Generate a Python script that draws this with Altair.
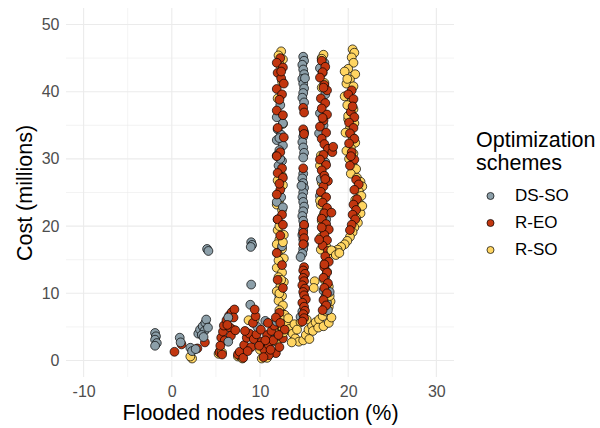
import altair as alt
import pandas as pd

schemes = ["DS-SO", "R-EO", "R-SO"]
scheme_colors = ["#8C9FA9", "#C2360F", "#FFD562"]

x_ticks = [-10, 0, 10, 20, 30]
x_minor = [-5, 5, 15, 25]
y_ticks = [0, 10, 20, 30, 40, 50]
y_minor = [5, 15, 25, 35, 45]

ds_so = [
    (-1.9, 4.1), (-1.8, 3.6), (-1.9, 3.1), (-1.7, 2.6), (-1.9, 2.2),
    (0.9, 3.4), (1.0, 2.7), (2.1, 1.9), (2.3, 1.4), (2.7, 1.7),
    (3.0, 4.0), (3.2, 4.6), (3.5, 5.1), (3.8, 5.6), (3.9, 6.1), (3.7, 4.4),
    (3.4, 3.8), (4.1, 4.9), (3.6, 3.5), (4.0, 16.6), (4.15, 16.3),
    (9.0, 17.6), (9.1, 17.2), (8.95, 16.9), (9.0, 11.3), (8.9, 8.3),
    (6.4, 6.4), (6.4, 2.8), (9.7, 5.0), (10.6, 5.9), (11.3, 3.2),
    (12.3, 38.0), (11.9, 36.2), (12.6, 35.3), (12.0, 34.4), (12.4, 33.6),
    (11.9, 32.8), (12.6, 32.0), (12.2, 31.3), (11.9, 30.5), (12.5, 29.7),
    (12.1, 29.0), (12.4, 24.3), (11.9, 23.6), (12.6, 22.8), (12.0, 21.0),
    (12.5, 17.0), (12.2, 9.5), (11.9, 5.8), (12.2, 33.1), (12.3, 30.0),
    (14.9, 45.2), (15.0, 44.6), (14.8, 44.0), (14.9, 43.3), (15.0, 42.6),
    (14.8, 41.9), (14.9, 41.2), (15.0, 40.5), (14.9, 39.8), (14.8, 39.1),
    (15.0, 38.4), (15.0, 34.0), (14.9, 33.3), (14.8, 32.5), (14.9, 31.7),
    (15.0, 30.9), (14.9, 30.2), (14.9, 27.8), (14.8, 27.1), (14.9, 26.4),
    (15.0, 25.7), (14.9, 25.0), (14.8, 24.3), (14.9, 23.6), (15.0, 22.9),
    (14.9, 22.2), (14.8, 21.5), (14.9, 20.8), (15.0, 20.1), (14.9, 19.4),
    (14.8, 18.7), (14.9, 18.0), (15.0, 17.3), (14.9, 16.6), (14.8, 15.9),
    (14.6, 15.4), (14.6, 6.5), (14.8, 7.3), (15.1, 42.0), (14.7, 26.0),
    (17.0, 45.0), (17.3, 44.3), (16.8, 43.5), (17.1, 42.8), (17.4, 39.6),
    (16.8, 36.8), (17.2, 35.0), (16.7, 33.8), (17.4, 29.5), (16.9, 27.0),
    (16.8, 24.5), (17.5, 21.0), (17.0, 18.2), (17.4, 12.5), (17.2, 10.4),
    (17.5, 9.8), (17.3, 9.2), (17.6, 8.6), (17.4, 8.0), (17.7, 7.5), (17.9, 10.2),
]

r_eo = [
    (0.3, 1.3), (1.1, 2.4), (2.9, 1.8), (3.75, 2.7), (5.4, 1.2), (5.7, 0.9),
    (5.6, 3.4), (5.8, 4.3), (5.9, 5.2), (6.2, 6.0), (6.5, 6.7), (6.8, 7.2),
    (7.1, 7.6), (7.0, 6.4), (6.6, 4.9), (6.0, 3.0), (6.7, 3.7), (7.2, 4.5),
    (7.5, 0.9), (7.7, 1.3), (8.1, 0.4), (8.2, 2.3), (8.5, 3.4), (8.8, 4.0),
    (8.3, 4.4), (9.0, 2.0), (9.3, 3.2), (9.6, 3.9), (9.2, 5.6), (9.5, 6.6),
    (9.4, 7.6), (10.2, 2.8), (10.5, 1.6), (10.8, 3.8), (11.0, 2.3), (11.3, 4.4),
    (11.5, 3.0), (11.8, 1.1), (11.0, 0.8), (10.4, 0.5), (12.2, 2.0), (12.6, 3.3),
    (12.4, 5.0), (12.0, 6.2), (12.5, 7.0), (11.6, 5.2), (10.9, 5.6), (10.1, 4.6),
    (10.6, 3.0), (11.2, 1.6), (9.9, 2.2), (8.6, 1.4), (6.3, 5.3), (5.5, 2.2),
    (12.3, 45.0), (11.9, 44.3), (12.6, 43.6), (12.0, 42.8), (12.4, 42.0),
    (12.7, 41.2), (11.9, 40.4), (12.5, 39.6), (12.2, 38.8), (11.9, 37.2),
    (12.6, 36.5), (12.0, 34.6), (12.7, 33.2), (12.3, 31.0), (11.9, 30.4),
    (12.5, 28.6), (12.0, 27.9), (12.6, 27.2), (12.3, 25.4), (11.9, 24.7),
    (12.5, 21.7), (12.0, 21.0), (12.6, 20.2), (12.3, 18.6), (11.9, 16.0),
    (12.5, 14.2), (12.0, 12.0), (12.6, 10.8), (12.2, 7.1), (11.8, 6.4),
    (12.3, 5.6), (12.8, 4.6), (12.1, 3.8), (12.4, 43.0), (12.2, 26.3),
    (14.9, 37.6), (15.0, 36.9), (14.9, 34.4), (15.0, 33.7), (14.9, 28.6),
    (15.0, 20.2), (14.9, 19.0), (15.0, 18.2), (14.9, 17.3),
    (15.0, 13.9), (14.9, 13.4), (15.1, 12.9), (14.9, 12.3), (15.0, 11.8),
    (14.8, 11.2), (15.1, 10.7), (14.9, 10.2), (15.0, 9.7), (15.2, 9.1),
    (14.8, 8.6), (15.0, 8.0), (15.1, 7.4), (14.9, 6.9), (15.0, 6.3), (14.8, 5.8),
    (17.0, 44.6), (17.4, 43.7), (17.1, 42.9), (16.8, 42.1), (17.3, 41.0),
    (17.6, 40.2), (16.9, 39.0), (17.4, 38.3), (17.0, 37.5), (17.6, 36.6),
    (17.2, 35.7), (16.8, 34.8), (17.5, 33.9), (17.0, 33.0), (17.3, 32.2),
    (17.7, 31.5), (18.2, 31.0), (17.2, 30.6), (16.8, 29.9), (17.5, 29.1),
    (17.0, 28.3), (17.3, 27.5), (17.7, 26.7), (17.2, 25.9), (16.9, 25.1),
    (17.5, 24.3), (17.1, 23.5), (17.6, 22.7), (17.3, 21.9), (17.0, 21.1),
    (17.5, 20.3), (17.8, 19.5), (17.3, 18.7), (17.6, 17.9), (17.1, 17.1),
    (17.7, 16.3), (17.4, 15.5), (17.8, 14.7), (17.3, 13.9), (17.6, 13.1),
    (17.2, 12.3), (17.7, 11.5), (17.3, 10.8), (17.6, 10.0), (17.2, 9.0),
    (17.5, 8.2), (17.1, 7.5), (18.1, 22.0), (16.7, 18.0), (17.2, 40.6),
    (17.1, 36.1), (17.4, 27.0), (17.0, 19.8), (17.3, 14.3), (18.3, 31.8),
    (20.4, 40.2), (20.0, 39.6), (20.6, 38.9), (20.3, 37.0), (20.7, 36.2),
    (20.1, 35.4), (20.6, 34.6), (20.2, 33.8), (20.7, 33.0), (20.1, 32.3),
    (20.4, 31.0), (20.7, 29.9), (20.2, 29.0), (20.9, 26.9), (21.2, 26.2),
    (20.7, 25.4), (21.0, 24.0), (20.6, 23.2), (20.9, 22.4), (20.5, 21.7),
    (20.8, 21.0), (20.4, 20.2), (20.2, 19.4), (20.5, 37.8), (20.3, 30.4),
]

r_so = [
    (2.3, 0.3), (2.1, 0.6), (5.3, 1.0), (5.45, 1.4), (5.7, 1.2), (7.5, 0.6),
    (7.7, 0.7), (8.0, 0.3), (6.9, 4.6), (10.0, 1.6), (10.2, 0.3), (10.8, 0.4),
    (11.9, 2.8), (12.1, 3.6), (9.1, 5.8), (9.4, 6.1), (8.7, 6.0), (11.6, 4.4),
    (11.5, 5.6), (12.2, 6.5),
    (12.4, 46.0), (12.1, 45.4), (12.6, 44.8), (12.2, 44.1), (12.5, 41.5),
    (12.0, 39.0), (12.6, 35.2), (12.2, 33.0), (12.5, 27.5), (12.0, 26.8),
    (12.6, 26.1), (12.2, 23.9), (11.9, 23.2), (12.5, 22.4), (12.0, 19.4),
    (12.7, 18.7), (12.2, 18.0), (11.9, 17.3), (12.5, 16.6), (12.0, 15.9),
    (12.7, 15.2), (12.3, 14.5), (11.9, 13.8), (12.5, 13.1), (12.1, 12.4),
    (12.7, 11.7), (12.3, 11.0), (11.9, 10.3), (12.5, 9.6), (12.1, 8.9),
    (12.6, 8.2), (12.2, 7.5), (12.8, 6.8), (12.4, 6.1), (12.9, 5.4),
    (12.6, 4.8), (12.7, 4.2), (12.2, 20.0), (12.6, 17.6), (12.1, 14.9),
    (12.4, 12.0), (12.2, 10.0),
    (13.0, 5.6), (13.3, 4.7), (13.7, 4.0), (14.0, 3.3), (14.4, 2.8),
    (14.9, 3.0), (15.2, 3.8), (15.5, 4.6), (15.9, 5.2), (16.3, 5.7),
    (16.7, 6.1), (17.1, 6.6), (17.5, 7.3), (17.8, 8.0), (18.0, 8.8),
    (13.2, 6.3), (13.9, 5.4), (14.6, 5.7), (15.3, 6.1), (16.0, 4.4),
    (16.6, 4.9), (17.2, 5.1), (17.8, 5.6), (18.1, 6.4), (15.6, 3.2),
    (13.6, 2.7), (14.2, 4.6), (16.2, 11.8), (16.1, 10.8),
    (17.2, 45.5), (17.0, 44.9), (17.3, 41.3), (17.0, 40.6), (16.9, 30.5),
    (16.8, 29.0), (17.0, 26.5), (17.1, 24.5), (16.9, 23.2), (17.3, 22.0),
    (17.0, 20.8), (17.2, 19.5), (16.9, 18.3), (17.5, 17.0), (17.7, 15.8),
    (17.4, 14.5), (17.6, 13.2), (17.3, 12.0), (17.8, 11.0), (17.9, 9.6),
    (16.8, 23.8), (17.1, 21.4), (16.9, 16.5),
    (20.5, 46.3), (20.7, 45.8), (20.4, 45.1), (20.6, 44.3), (20.0, 43.4),
    (19.6, 43.0), (20.8, 42.6), (20.2, 41.8), (19.8, 41.2), (20.6, 40.8),
    (19.6, 39.3), (20.4, 38.6), (19.9, 38.0), (20.6, 37.4), (20.3, 36.7),
    (20.0, 35.9), (20.7, 35.3), (20.2, 34.6), (19.7, 33.9), (20.5, 33.2),
    (20.8, 32.4), (20.3, 31.6), (20.6, 30.8), (20.1, 30.0), (20.5, 29.2),
    (20.9, 28.5), (20.3, 27.8), (21.0, 27.2), (21.4, 26.6), (21.6, 25.9),
    (21.2, 25.2), (21.5, 24.5), (20.8, 23.9), (21.3, 23.3), (21.0, 22.6),
    (21.4, 21.9), (20.9, 21.2), (21.1, 20.5), (20.7, 19.8), (20.5, 19.1),
    (20.2, 18.4), (19.9, 17.8), (19.6, 17.3), (19.2, 16.9), (18.8, 16.5),
    (18.4, 16.2), (18.1, 16.4), (18.6, 15.7), (19.0, 16.0), (19.9, 41.9),
    (20.0, 36.4), (19.8, 31.2), (21.6, 23.0),
]

# interleave the three series so that drawing order is mixed
series = [ds_so, r_eo, r_so]
rows = []
longest = max(len(s) for s in series)
for i in range(longest):
    for name, pts in zip(schemes, series):
        if i < len(pts):
            rows.append({"x": pts[i][0], "y": pts[i][1], "scheme": name, "order": len(rows)})
df = pd.DataFrame(rows)

W, H = 388, 369
FONT = "Liberation Sans"

xscale = alt.Scale(domain=[-12, 32], nice=False, zero=False)
yscale = alt.Scale(domain=[-2.45, 52.45], nice=False, zero=False)

grid_major_x = alt.Chart(pd.DataFrame({"v": x_ticks})).mark_rule(color="#EBEBEB", strokeWidth=1.1).encode(
    x=alt.X("v:Q", scale=xscale), y=alt.value(0), y2=alt.value(H))
grid_minor_x = alt.Chart(pd.DataFrame({"v": x_minor})).mark_rule(color="#EBEBEB", strokeWidth=0.6).encode(
    x=alt.X("v:Q", scale=xscale), y=alt.value(0), y2=alt.value(H))
grid_major_y = alt.Chart(pd.DataFrame({"v": y_ticks})).mark_rule(color="#EBEBEB", strokeWidth=1.1).encode(
    y=alt.Y("v:Q", scale=yscale), x=alt.value(0), x2=alt.value(W))
grid_minor_y = alt.Chart(pd.DataFrame({"v": y_minor})).mark_rule(color="#EBEBEB", strokeWidth=0.6).encode(
    y=alt.Y("v:Q", scale=yscale), x=alt.value(0), x2=alt.value(W))

points = alt.Chart(df).mark_point(
    filled=True, shape="circle", size=78, stroke="black", strokeWidth=0.7, opacity=1
).encode(
    x=alt.X("x:Q", scale=xscale, title="Flooded nodes reduction (%)",
            axis=alt.Axis(values=x_ticks, grid=False, ticks=False, domain=False,
                          labelExpr="datum.value", labelPadding=6, titlePadding=3)),
    y=alt.Y("y:Q", scale=yscale, title="Cost (millions)",
            axis=alt.Axis(values=y_ticks, grid=False, ticks=False, domain=False,
                          labelExpr="datum.value", labelPadding=7, titlePadding=5)),
    color=alt.Color("scheme:N", scale=alt.Scale(domain=schemes, range=scheme_colors),
                    legend=alt.Legend(title=["Optimization", "schemes"], orient="none",
                                      legendX=410, legendY=122, symbolType="circle",
                                      symbolSize=50, symbolStrokeColor="black",
                                      symbolStrokeWidth=0.7, symbolOffset=6,
                                      labelOffset=16, rowPadding=9,
                                      titleFontSize=21.5, titleFontWeight="normal",
                                      titleColor="black", titleLineHeight=23,
                                      titlePadding=13, labelFontSize=17,
                                      labelColor="black", titleFont=FONT, labelFont=FONT)),
    order=alt.Order("order:Q"),
)

chart = alt.layer(grid_minor_x, grid_minor_y, grid_major_x, grid_major_y, points).properties(
    width=W, height=H,
    autosize=alt.AutoSizeParams(type="none"),
    padding={"left": 66, "top": 8, "right": 146, "bottom": 51},
    background="white",
).configure_view(stroke=None).configure_axis(
    labelFont=FONT, titleFont=FONT, labelFontSize=16, labelColor="#4D4D4D",
    titleFontSize=21.5, titleColor="black", titleFontWeight="normal",
)

chart.save("out.html", embed_options={"renderer": "svg", "actions": False})
